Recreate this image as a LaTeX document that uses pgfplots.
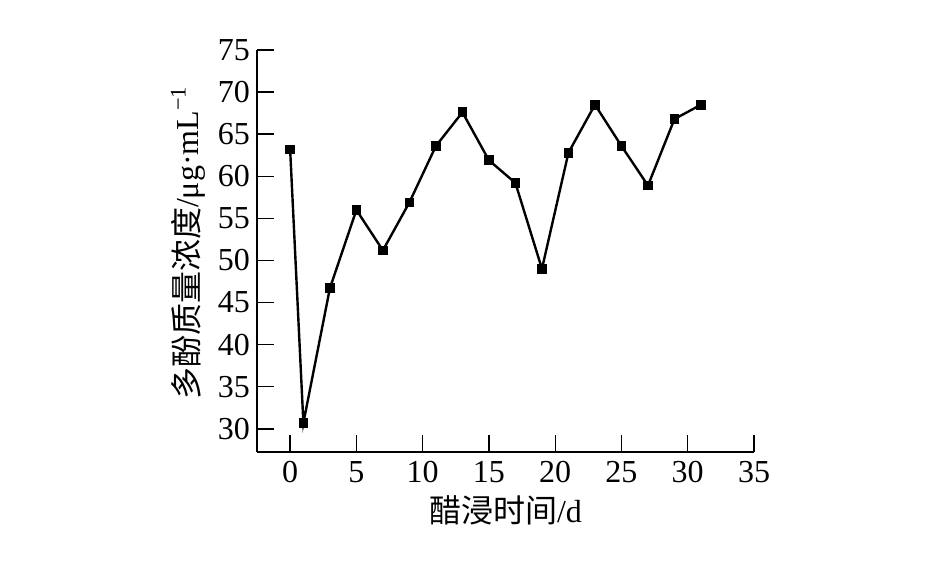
\documentclass[border=0pt]{standalone}
\usepackage{fontspec}
\setmainfont{Liberation Serif}
\newfontfamily\cjk{Noto Sans CJK SC}
\usepackage{pgfplots}
\pgfplotsset{compat=1.18}

\pgfplotstableread{
day conc
0  63.2
1  30.7
3  46.7
5  56.0
7  51.2
9  56.9
11 63.6
13 67.6
15 61.9
17 59.2
19 49.0
21 62.8
23 68.5
25 63.6
27 58.9
29 66.8
31 68.5
}\polyphenol

\begin{document}
\begin{tikzpicture}
\useasboundingbox (-128.5pt,-57.5pt) rectangle (344pt,226pt);
\begin{axis}[
  at={(0,0)}, anchor=south west,
  scale only axis, width=248.5pt, height=201pt,
  xmin=-2.5, xmax=35, ymin=27.25, ymax=75,
  xtick={0,5,...,35}, ytick={30,35,...,75},
  axis x line*=bottom, axis y line*=left,
  axis line style={-, line width=0.8pt},
  tick align=inside, major tick length=8.5pt,
  tick style={line width=0.7pt, black},
  /pgf/number format/assume math mode=true,
  ticklabel style={font=\fontsize{16}{17}\selectfont},
  xticklabel style={yshift=-1pt},
  xlabel={\cjk 醋浸时间\rmfamily/d},
  ylabel={\cjk 多酚质量浓度\rmfamily/μg·mL\textsuperscript{−1}},
  label style={font=\fontsize{16}{17}\selectfont},
  xlabel style={at={(axis description cs:0.5,0)}, anchor=center, yshift=-29pt},
  ylabel style={at={([xshift=-34.5pt]axis description cs:0,0.52)}, anchor=center},
]
\addplot[black, line width=1.2pt, mark=square*, mark size=1.8pt] table[x=day, y=conc] {\polyphenol};
\end{axis}
\end{tikzpicture}
\end{document}
